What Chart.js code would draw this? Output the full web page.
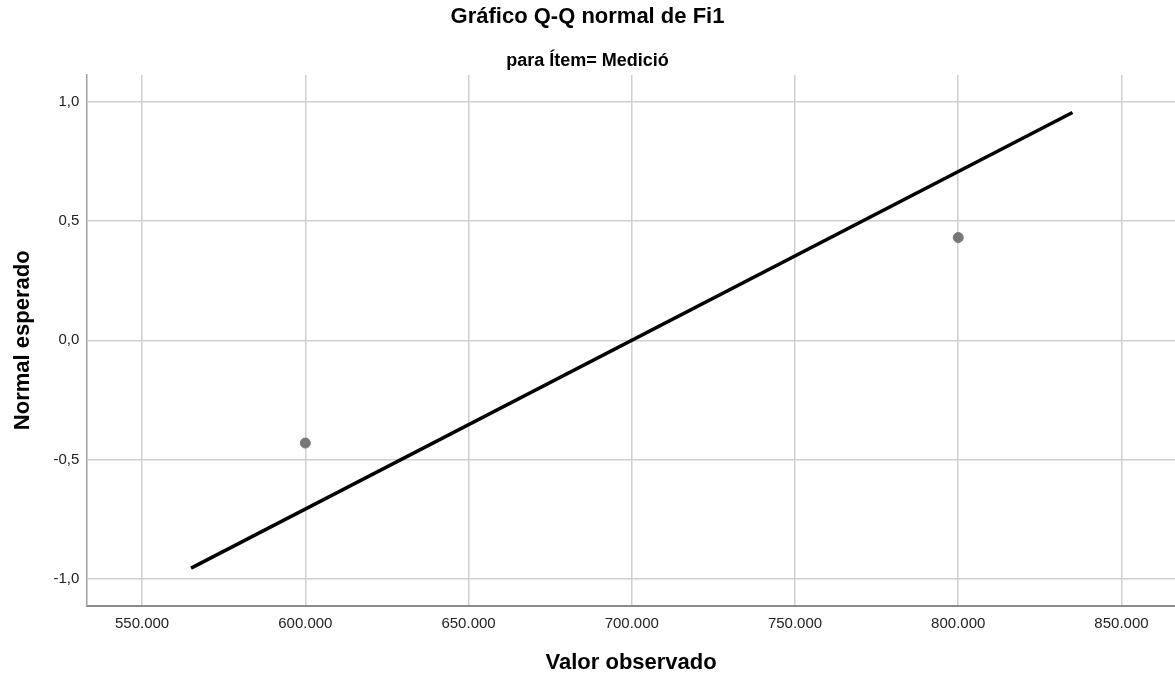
<!DOCTYPE html>
<html>
<head>
<meta charset="utf-8">
<title>Gráfico Q-Q normal de Fi1</title>
<script src="https://cdn.jsdelivr.net/npm/chart.js@4.4.1/dist/chart.umd.min.js"></script>
<style>
    body { margin: 0; background: #fff; overflow: hidden; }
    #wrap { width: 1175px; height: 679px; position: relative; }
</style>
</head>
<body>
<div id="wrap"><canvas id="qqChart"></canvas></div>
<script>
const observed = [600000, 800000];
const expectedNormal = [-0.4307, 0.4307];
const refLineX = [565000, 835000];
const refLineY = [-0.955, 0.955];
const xTickValues = [550000, 600000, 650000, 700000, 750000, 800000, 850000];
const yTickValues = [-1, -0.5, 0, 0.5, 1];

const FONT = "'Liberation Sans', Arial, sans-serif";

const points = observed.map((v, i) => ({ x: v, y: expectedNormal[i] }));
const refLine = refLineX.map((v, i) => ({ x: v, y: refLineY[i] }));

function fmtThousands(v) {
    return Math.round(v).toString().replace(/\B(?=(\d{3})+(?!\d))/g, '.');
}

new Chart(document.getElementById('qqChart').getContext('2d'), {
    type: 'scatter',
    data: {
        datasets: [
            {
                label: 'Observado',
                data: points,
                backgroundColor: '#777777',
                borderColor: '#777777',
                pointRadius: 5,
                pointHoverRadius: 5
            },
            {
                type: 'line',
                label: 'Referencia',
                data: refLine,
                borderColor: '#000000',
                borderWidth: 3.5,
                pointRadius: 0,
                fill: false
            }
        ]
    },
    options: {
        responsive: true,
        maintainAspectRatio: false,
        animation: false,
        // plot runs to the right edge of the picture
        layout: { padding: 0, autoPadding: false },
        plugins: {
            legend: { display: false },
            tooltip: { enabled: false },
            title: {
                display: true,
                text: 'Gráfico Q-Q normal de Fi1',
                color: '#000',
                font: { family: FONT, size: 22, weight: 'bold' },
                padding: { top: 4, bottom: 0 }
            },
            subtitle: {
                display: true,
                text: 'para Ítem= Medició',
                color: '#000',
                font: { family: FONT, size: 18, weight: 'bold' },
                padding: { top: 20, bottom: 3 }
            }
        },
        scales: {
            x: {
                type: 'linear',
                min: 533200,
                max: 866400,
                afterBuildTicks: scale => {
                    scale.ticks = xTickValues.map(v => ({ value: v }));
                },
                afterFit: scale => {
                    scale.paddingRight = 0;
                    scale.paddingLeft = 0;
                },
                grid: { color: '#d0d0d0', lineWidth: 1.5, drawTicks: false },
                border: { color: '#8a8a8a', width: 2 },
                ticks: {
                    color: '#222',
                    font: { family: FONT, size: 15 },
                    padding: 9,
                    maxRotation: 0,
                    callback: v => fmtThousands(v)
                },
                title: {
                    display: true,
                    text: 'Valor observado',
                    color: '#000',
                    font: { family: FONT, size: 22, weight: 'bold' },
                    padding: { top: 8, bottom: 3 }
                }
            },
            y: {
                type: 'linear',
                min: -1.112,
                max: 1.112,
                afterBuildTicks: scale => {
                    scale.ticks = yTickValues.map(v => ({ value: v }));
                },
                grid: { color: '#d0d0d0', lineWidth: 1.5, drawTicks: false },
                border: { color: '#a0a0a0', width: 1.5 },
                ticks: {
                    color: '#222',
                    font: { family: FONT, size: 15 },
                    padding: 8,
                    callback: v => v.toFixed(1).replace('.', ',')
                },
                title: {
                    display: true,
                    text: 'Normal esperado',
                    color: '#000',
                    font: { family: FONT, size: 22, weight: 'bold' },
                    padding: { top: 10, bottom: 9 }
                }
            }
        }
    }
});
</script>
</body>
</html>
